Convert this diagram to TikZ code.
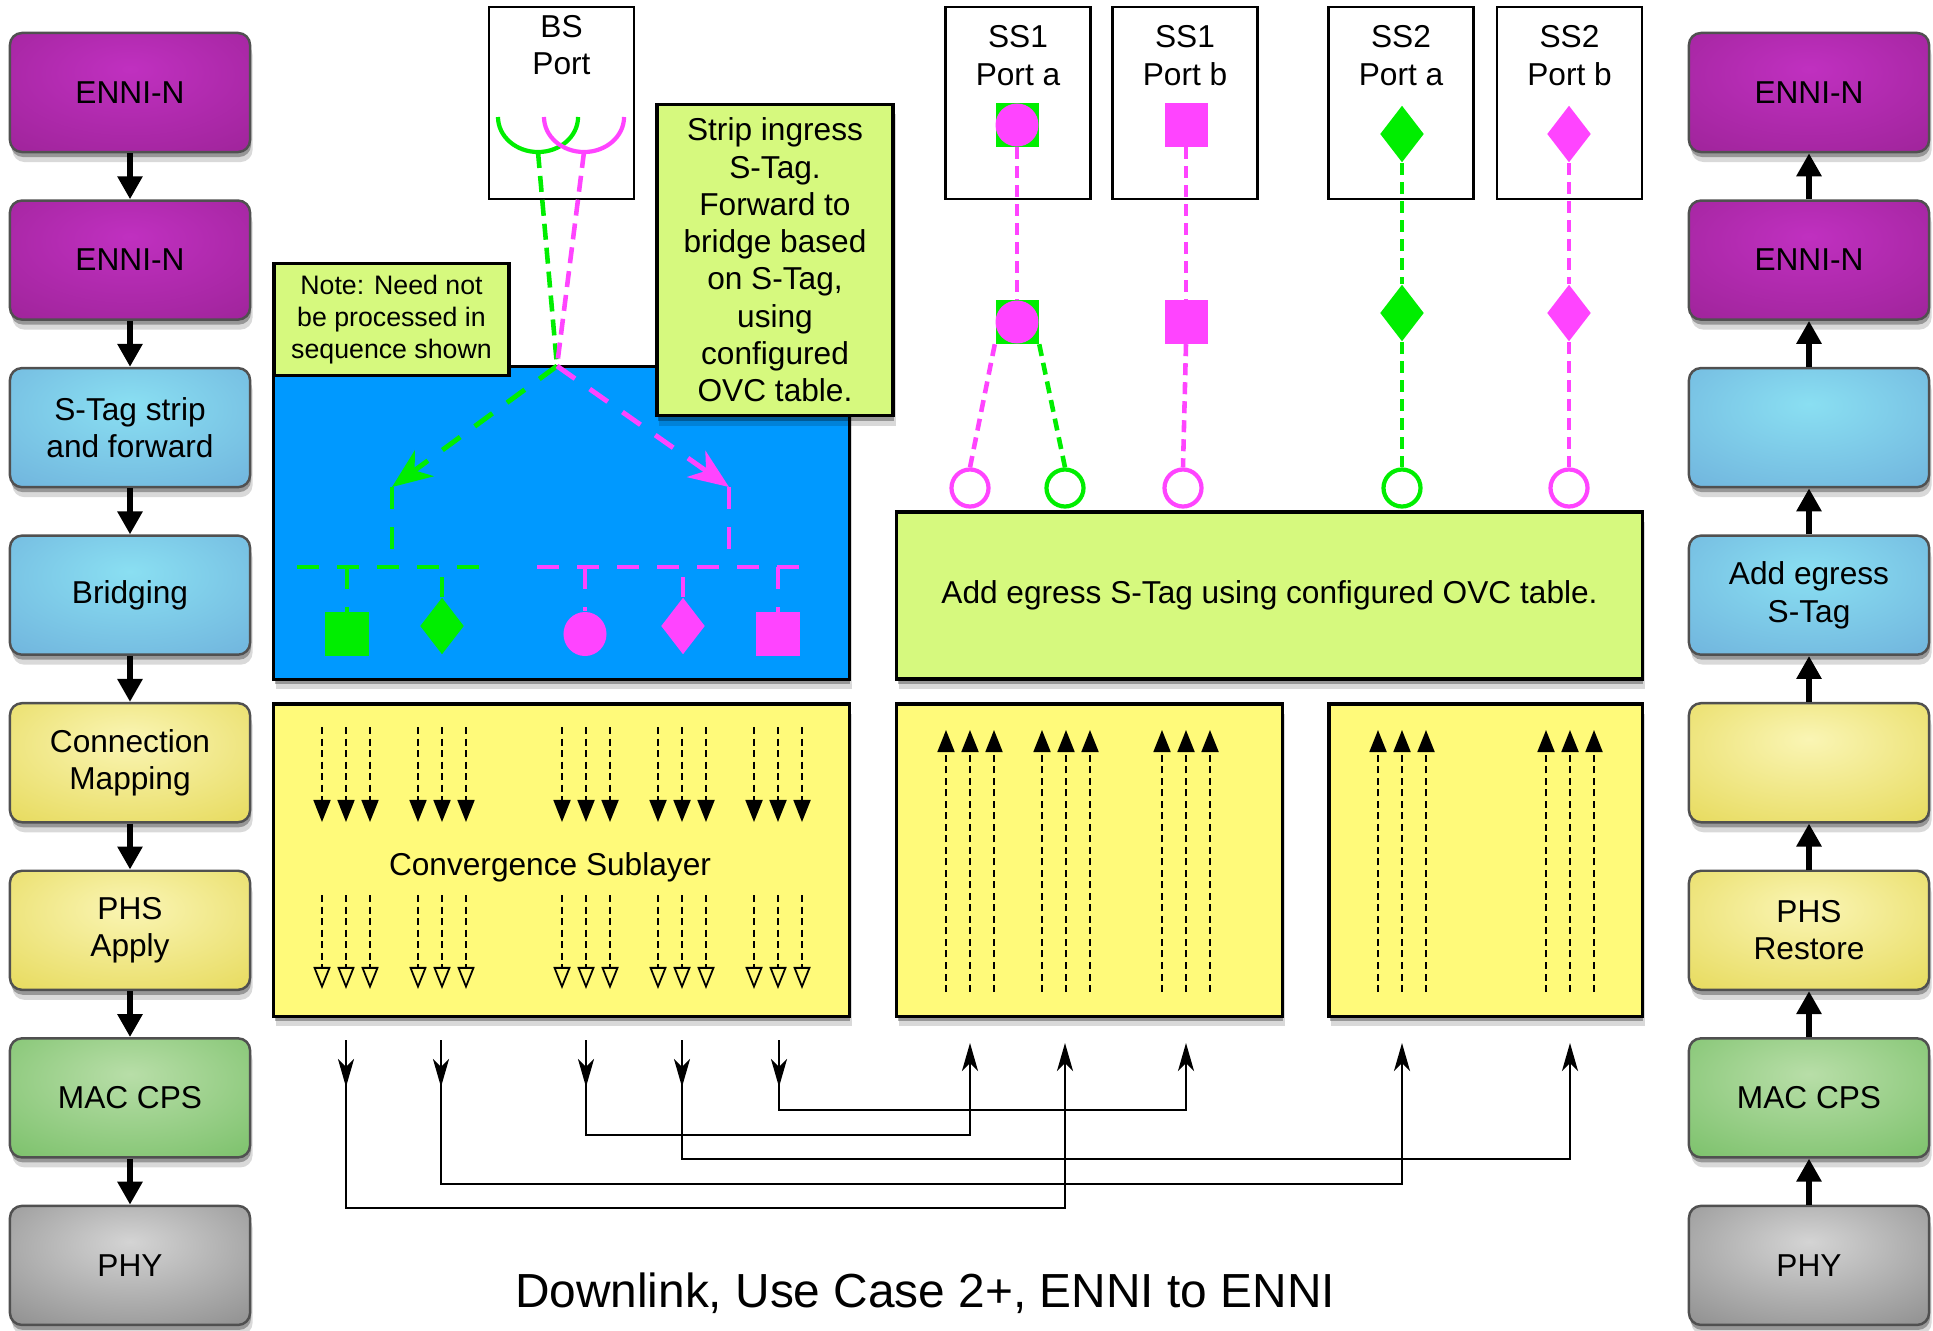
\documentclass[tikz,border=0pt]{standalone}
\usepackage{fontspec}
\setmainfont{Liberation Sans}
\usetikzlibrary{positioning,shapes.geometric,arrows.meta,shadows}
\definecolor{boxedge}{HTML}{505050}
\definecolor{bridgeblue}{HTML}{0099FF}
\definecolor{notegreen}{HTML}{D6F97E}
\definecolor{cslyellow}{HTML}{FFFA7A}
\definecolor{tagg}{HTML}{00EE00}
\definecolor{tagm}{HTML}{FF44FF}
\definecolor{ennihi}{HTML}{C030C0}
\definecolor{ennilo}{HTML}{972191}
\definecolor{bluehi}{HTML}{8ADFF2}
\definecolor{bluelo}{HTML}{6AAAD8}
\definecolor{yelhi}{HTML}{FAF5B4}
\definecolor{yello}{HTML}{E2D448}
\definecolor{machi}{HTML}{B8DEA8}
\definecolor{maclo}{HTML}{6DBA5C}
\definecolor{phyhi}{HTML}{D4D4D4}
\definecolor{phylo}{HTML}{7E7E7E}
\colorlet{glowin}{white}
\colorlet{glowout}{gray}
\pgfdeclareradialshading[glowin,glowout]{glow}{\pgfpoint{0bp}{10bp}}{color(0bp)=(glowin); color(50bp)=(glowout); color(90bp)=(glowout)}
\newcommand{\boxfont}{\fontsize{9}{10.6}\selectfont}
\newcommand{\notefont}{\fontsize{7.6}{9.1}\selectfont}

\begin{document}
\begin{tikzpicture}[x=0.01cm, y=-0.01cm,
    node distance=0.46cm,
    shadowed/.style={drop shadow={shadow xshift=0.1mm, shadow yshift=-0.5mm, opacity=0.3, fill=black},
                     drop shadow={shadow xshift=0.25mm, shadow yshift=-1.0mm, opacity=0.15, fill=black}},
    layer/.style 2 args={rectangle, rounded corners=0.12cm, draw=boxedge, line width=0.7pt, minimum width=2.4cm, minimum height=1.19cm, align=center, font=\boxfont, /utils/exec={\colorlet{glowin}{#1}\colorlet{glowout}{#2}}, shading=glow, shadowed},
    flow/.style={-{Triangle[width=2.4mm,length=2.3mm]}, line width=1.8pt},
    port/.style={rectangle, draw, line width=0.7pt, minimum width=1.45cm, minimum height=1.92cm},
    lbl/.style={align=center, font=\boxfont, inner sep=0pt},
    flat/.style={rectangle, draw, line width=0.9pt, align=center, font=\boxfont},
    panel/.style={flat, shadowed},
    gsq/.style={rectangle, fill=tagg, minimum size=0.43cm, inner sep=0pt},
    msq/.style={rectangle, fill=tagm, minimum size=0.43cm, inner sep=0pt},
    gdia/.style={diamond, fill=tagg, minimum width=0.44cm, minimum height=0.57cm, inner sep=0pt},
    mdia/.style={diamond, fill=tagm, minimum width=0.44cm, minimum height=0.57cm, inner sep=0pt},
    mdot/.style={ellipse, fill=tagm, minimum width=0.43cm, minimum height=0.44cm, inner sep=0pt},
    ring/.style={circle, draw=#1, line width=1.2pt, minimum size=0.37cm, inner sep=0pt},
    gline/.style={draw=tagg, line width=1.3pt, dash pattern=on 0.12cm off 0.07cm},
    mline/.style={draw=tagm, line width=1.3pt, dash pattern=on 0.12cm off 0.07cm},
    gbus/.style={draw=tagg, line width=1.4pt, dash pattern=on 0.22cm off 0.18cm},
    mbus/.style={draw=tagm, line width=1.4pt, dash pattern=on 0.22cm off 0.18cm},
    cdash/.style={line width=0.5pt, dash pattern=on 0.07cm off 0.045cm},
    link/.style={line width=0.8pt, -{Stealth[length=2.8mm,width=1.6mm,inset=0.8mm]}}
]
    \useasboundingbox (0,0) rectangle (1933,1330);

    % Ingress stack (left)
    \node[layer={ennihi}{ennilo}] (l1) at (130,92.5) {ENNI-N};
    \node[layer={ennihi}{ennilo}, below=of l1] (l2) {ENNI-N};
    \node[layer={bluehi}{bluelo}, below=of l2] (l3) {S-Tag strip\\and forward};
    \node[layer={bluehi}{bluelo}, below=of l3] (l4) {Bridging};
    \node[layer={yelhi}{yello}, below=of l4] (l5) {Connection\\Mapping};
    \node[layer={yelhi}{yello}, below=of l5] (l6) {PHS\\Apply};
    \node[layer={machi}{maclo}, below=of l6] (l7) {MAC CPS};
    \node[layer={phyhi}{phylo}, below=of l7] (l8) {PHY};

    % Egress stack (right)
    \node[layer={ennihi}{ennilo}] (r1) at (1809,92.5) {ENNI-N};
    \node[layer={ennihi}{ennilo}, below=of r1] (r2) {ENNI-N};
    \node[layer={bluehi}{bluelo}, below=of r2] (r3) {};
    \node[layer={bluehi}{bluelo}, below=of r3] (r4) {Add egress\\S-Tag};
    \node[layer={yelhi}{yello}, below=of r4] (r5) {};
    \node[layer={yelhi}{yello}, below=of r5] (r6) {PHS\\Restore};
    \node[layer={machi}{maclo}, below=of r6] (r7) {MAC CPS};
    \node[layer={phyhi}{phylo}, below=of r7] (r8) {PHY};

    \foreach \a/\b in {1/2,2/3,3/4,4/5,5/6,6/7,7/8} {
        \draw[flow] (l\a) -- (l\b);
        \draw[flow] (r\b) -- (r\a);
    }

    % Ports
    \node[port] (bs) at (561.5,103) {};
    \node[lbl] (bsl) at (561.5,45) {BS\\Port};
    \node[port] (ss1a) at (1018,103) {};
    \node[lbl] (ss1al) at (1018,55.5) {SS1\\Port a};
    \node[port] (ss1b) at (1185,103) {};
    \node[lbl] (ss1bl) at (1185,55.5) {SS1\\Port b};
    \node[port] (ss2a) at (1401,103) {};
    \node[lbl] (ss2al) at (1401,55.5) {SS2\\Port a};
    \node[port] (ss2b) at (1569.5,103) {};
    \node[lbl] (ss2bl) at (1569.5,55.5) {SS2\\Port b};

    % Bridging area
    \node[panel, fill=bridgeblue, minimum width=5.75cm, minimum height=3.12cm] (bridge) at (561.5,523) {};
    \node[flat, fill=notegreen, font=\notefont, minimum width=2.35cm, minimum height=0.95cm] (note) at (391.5,319.5) {Note: Need not\\be processed in\\sequence shown};
    \node[panel, fill=notegreen, minimum width=2.36cm, minimum height=3.11cm] (strip) at (775,260) {Strip ingress\\S-Tag.\\Forward to\\bridge based\\on S-Tag,\\using\\configured\\OVC table.};

    % BS port tags and forwarding
    \draw[tagg, line width=1.2pt] (498,117) arc[start angle=180, end angle=360, x radius=0.4cm, y radius=0.35cm];
    \draw[tagm, line width=1.2pt] (544,117) arc[start angle=180, end angle=360, x radius=0.4cm, y radius=0.35cm];
    \coordinate (gcup) at (538,152);
    \coordinate (mcup) at (584,152);
    \coordinate (apex) at (557,366);
    \draw[gline, dash pattern=on 0.16cm off 0.08cm] (gcup) -- (apex);
    \draw[mline, dash pattern=on 0.16cm off 0.08cm] (mcup) -- (apex);
    \coordinate (gturn) at (392,487);
    \coordinate (mturn) at (729,487);
    \draw[gbus, -{Stealth[length=4mm,width=3.2mm,inset=1.2mm]}] (apex) -- (gturn);
    \draw[mbus, -{Stealth[length=4mm,width=3.2mm,inset=1.2mm]}] (apex) -- (mturn);
    \coordinate (gL) at (297,567);
    \coordinate (gR) at (492,567);
    \coordinate (mL) at (537,567);
    \coordinate (mR) at (817,567);
    \draw[gbus] (gturn) -- (gturn |- gL);
    \draw[mbus] (mturn) -- (mturn |- mL);
    \draw[gbus] (gL) -- (gR);
    \draw[mbus] (mL) -- (mR);

    \node[gsq] (bgsq) at (347,634) {};
    \node[gdia] (bgdia) at (442,626) {};
    \node[mdot] (bmdot) at (585,634) {};
    \node[mdia] (bmdia) at (683,626) {};
    \node[msq] (bmsq) at (778,634) {};
    \draw[gbus] (bgsq.north |- gL) -- (bgsq.north);
    \draw[gbus, solid] (442,577) -- (bgdia.north);
    \draw[mbus] (bmdot.north |- mL) -- (bmdot.north);
    \draw[mbus, solid] (683,577) -- (bmdia.north);
    \draw[mbus] (bmsq.north |- mL) -- (bmsq.north);

    % SS port tags
    \node[gsq] (s1aTop) at (1017,125) {};
    \node[mdot, minimum height=0.43cm] (s1aTopE) at (s1aTop) {};
    \node[gsq] (s1aMid) at (1017,322) {};
    \node[mdot, minimum height=0.43cm] (s1aMidE) at (s1aMid) {};
    \node[msq] (s1bTop) at (1186,125) {};
    \node[msq] (s1bMid) at (1186,322) {};
    \node[gdia] (s2aTop) at (1402,134) {};
    \node[gdia] (s2aMid) at (1402,313) {};
    \node[mdia] (s2bTop) at (1569,134) {};
    \node[mdia] (s2bMid) at (1569,313) {};

    \node[ring=tagm] (ring1) at (970,488) {};
    \node[ring=tagg] (ring2) at (1065,488) {};
    \node[ring=tagm] (ring3) at (1183,488) {};
    \node[ring=tagg] (ring4) at (1402,488) {};
    \node[ring=tagm] (ring5) at (1569,488) {};

    \draw[mline] (s1aTopE.south) -- (s1aMidE.north);
    \draw[mline] (s1aMid.south west) -- (ring1.north);
    \draw[gline] (s1aMid.south east) -- (ring2.north);
    \draw[mline] (s1bTop.south) -- (s1bMid.north);
    \draw[mline] (s1bMid.south) -- (ring3.north);
    \draw[gline] (s2aTop.south) -- (s2aMid.north);
    \draw[gline] (s2aMid.south) -- (ring4.north);
    \draw[mline] (s2bTop.south) -- (s2bMid.north);
    \draw[mline] (s2bMid.south) -- (ring5.north);

    \node[panel, fill=notegreen, minimum width=7.45cm, minimum height=1.67cm] (egress) at (1269.5,595.5) {Add egress S-Tag using configured OVC table.};

    % Convergence sublayer
    \node[panel, fill=cslyellow, minimum width=5.75cm, minimum height=3.12cm] (csl) at (561.5,860) {};
    \node[lbl] (cslt) at (550,867) {Convergence Sublayer};
    \node[panel, fill=cslyellow, minimum width=3.85cm, minimum height=3.12cm] (cslss1) at (1089.5,860) {};
    \node[panel, fill=cslyellow, minimum width=3.13cm, minimum height=3.12cm] (cslss2) at (1485.5,860) {};

    \foreach \g in {346,442,586,682,778}
        \foreach \d in {-24,0,24} {
            \draw[cdash, -{Triangle[width=1.7mm,length=2.2mm]}] (\g+\d,727) -- (\g+\d,822);
            \draw[cdash, -{Triangle[open,width=1.7mm,length=2.2mm]}] (\g+\d,895) -- (\g+\d,989);
        }
    \foreach \g in {970,1066,1186,1402,1570}
        \foreach \d in {-24,0,24}
            \draw[cdash, -{Triangle[width=1.7mm,length=2.2mm]}] (\g+\d,992) -- (\g+\d,730);

    % Connections between sublayers
    \foreach \x [count=\i] in {346,441,586,682,779}
        \coordinate (dn\i) at (\x,1040);
    \foreach \x [count=\i] in {970,1065,1186,1402,1570}
        \coordinate (up\i) at (\x,1043);
    \foreach \a/\b/\h in {1/2/1208, 2/4/1184, 3/1/1135, 4/5/1159, 5/3/1110} {
        \draw[link] (dn\a) -- ++(0,47);
        \draw[link] (dn\a) -- (dn\a |- 0,\h) -| (up\b);
    }

    \node[lbl, font=\fontsize{13.6}{16}\selectfont] (title) at (925,1293) {Downlink, Use Case 2+, ENNI to ENNI};
\end{tikzpicture}
\end{document}
